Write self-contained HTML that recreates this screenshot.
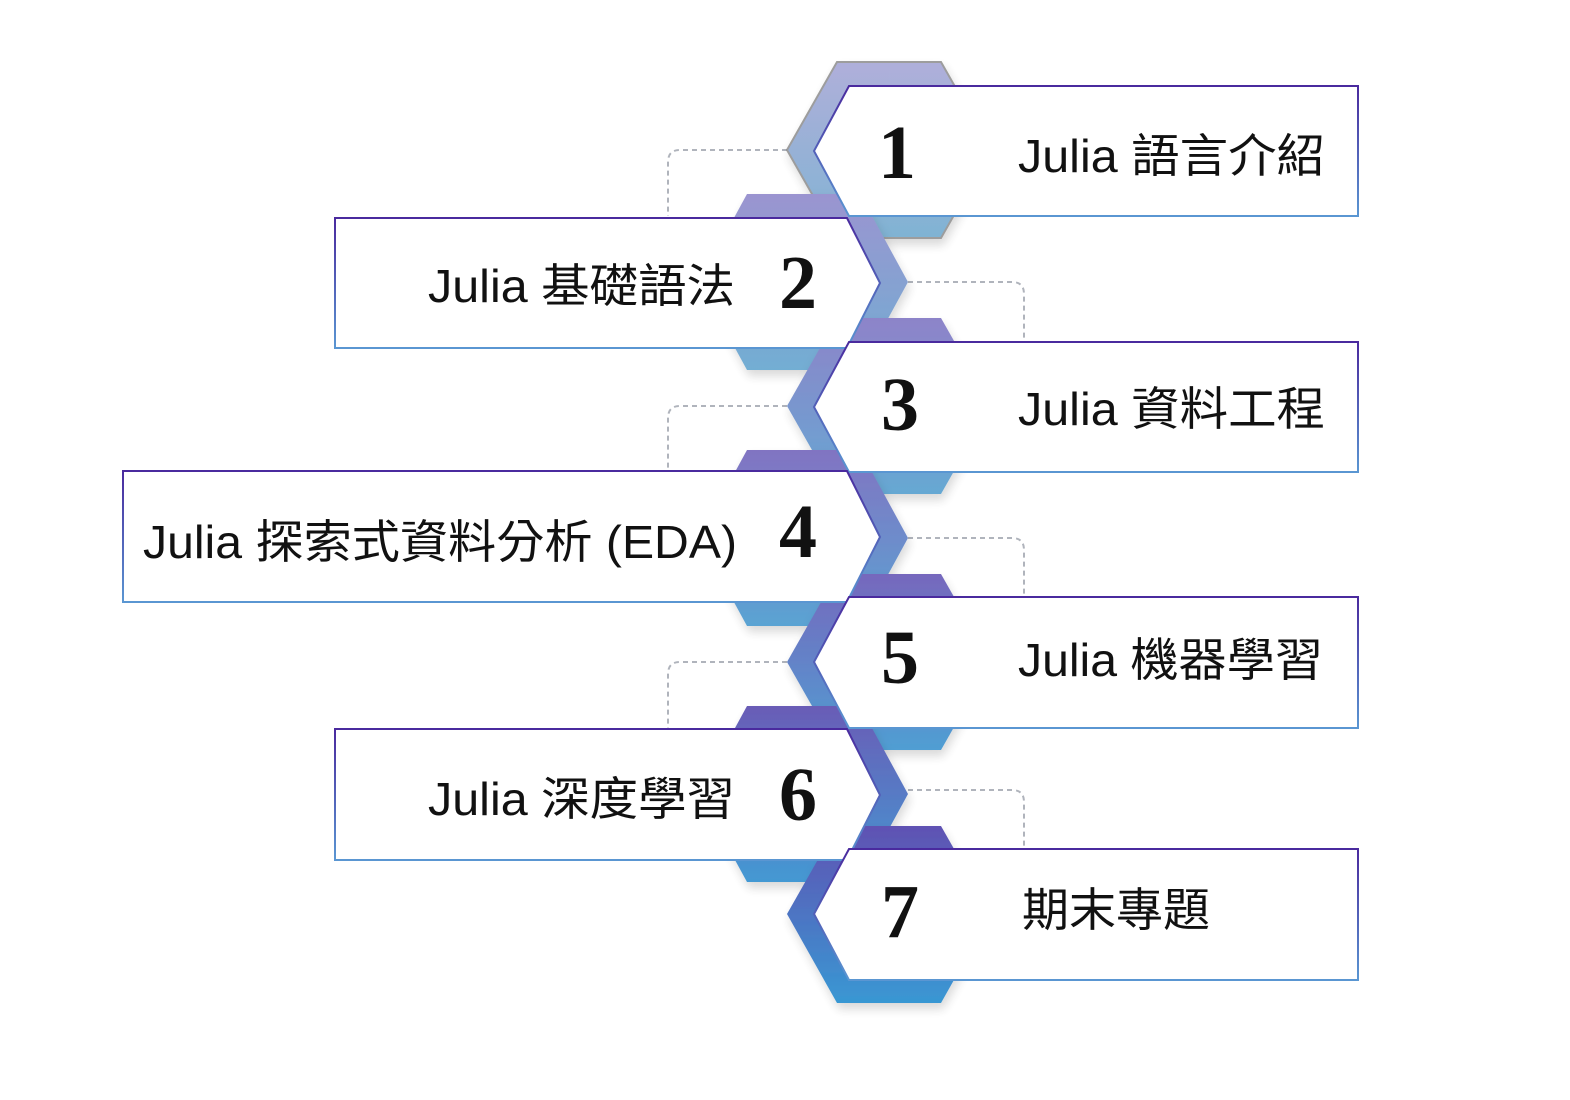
<!DOCTYPE html>
<html><head><meta charset="utf-8"><style>
html,body{margin:0;padding:0;background:#fff;}
svg{display:block;}
.lbl{font-family:"Liberation Sans","Noto Sans CJK TC",sans-serif;font-size:46px;fill:#111;}
.num{font-family:"Liberation Serif",serif;font-weight:bold;font-size:76px;fill:#111;}
</style></head><body>
<svg width="1570" height="1100" viewBox="0 0 1570 1100" xmlns="http://www.w3.org/2000/svg">
<defs>
<linearGradient id="bd" x1="0" y1="0" x2="0" y2="1"><stop offset="0" stop-color="#4a2a9e"/><stop offset="1" stop-color="#5a96d2"/></linearGradient>
<linearGradient id="h1" x1="0" y1="0" x2="0" y2="1"><stop offset="0" stop-color="#a2a2d4"/><stop offset="1" stop-color="#6aa6cc"/></linearGradient>
<linearGradient id="h2" x1="0" y1="0" x2="0" y2="1"><stop offset="0" stop-color="#8a82c8"/><stop offset="1" stop-color="#5aa0cc"/></linearGradient>
<linearGradient id="h3" x1="0" y1="0" x2="0" y2="1"><stop offset="0" stop-color="#7a6ec0"/><stop offset="1" stop-color="#4c9acc"/></linearGradient>
<linearGradient id="h4" x1="0" y1="0" x2="0" y2="1"><stop offset="0" stop-color="#6c5cb8"/><stop offset="1" stop-color="#3e94cc"/></linearGradient>
<linearGradient id="h5" x1="0" y1="0" x2="0" y2="1"><stop offset="0" stop-color="#5e4eb2"/><stop offset="1" stop-color="#328ecc"/></linearGradient>
<linearGradient id="h6" x1="0" y1="0" x2="0" y2="1"><stop offset="0" stop-color="#5040aa"/><stop offset="1" stop-color="#2488cc"/></linearGradient>
<linearGradient id="h7" x1="0" y1="0" x2="0" y2="1"><stop offset="0" stop-color="#4434a6"/><stop offset="1" stop-color="#1886cc"/></linearGradient>
<filter id="sh" x="-20%" y="-20%" width="140%" height="150%"><feDropShadow dx="2" dy="6" stdDeviation="5" flood-color="#000" flood-opacity="0.18"/></filter>
</defs>

<g fill="none" stroke="#b0b4bc" stroke-width="2" stroke-dasharray="5,4">
<path d="M787 150 H680 Q668 150 668 162 V216"/>
<path d="M787 406 H680 Q668 406 668 418 V470"/>
<path d="M787 662 H680 Q668 662 668 674 V728"/>
<path d="M908 282 H1012 Q1024 282 1024 294 V340"/>
<path d="M908 538 H1012 Q1024 538 1024 550 V596"/>
<path d="M908 790 H1012 Q1024 790 1024 802 V848"/>
</g>

<g opacity="0.85">
<polygon points="837,62 941,62 991,150 941,238 837,238 787,150" fill="url(#h1)" stroke="#8c8c8c" stroke-width="2" filter="url(#sh)"/>
<polygon points="747,194 860,194 908,282 860,370 747,370 699,282" fill="url(#h2)" filter="url(#sh)"/>
<polygon points="837,318 941,318 991,406 941,494 837,494 787,406" fill="url(#h3)" filter="url(#sh)"/>
<polygon points="747,450 860,450 908,538 860,626 747,626 699,538" fill="url(#h4)" filter="url(#sh)"/>
<polygon points="837,574 941,574 991,662 941,750 837,750 787,662" fill="url(#h5)" filter="url(#sh)"/>
<polygon points="747,706 860,706 908,794 860,882 747,882 699,794" fill="url(#h6)" filter="url(#sh)"/>
<polygon points="837,826 941,826 991,914 941,1003 837,1003 787,914" fill="url(#h7)" filter="url(#sh)"/>
</g>

<g fill="#fff" stroke="url(#bd)" stroke-width="2">
<polygon points="849,86 1358,86 1358,216 849,216 814,151"/>
<polygon points="335,218 847,218 880,283 847,348 335,348"/>
<polygon points="849,342 1358,342 1358,472 849,472 814,407"/>
<polygon points="123,471 847,471 880,537 847,602 123,602"/>
<polygon points="849,597 1358,597 1358,728 849,728 814,662"/>
<polygon points="335,729 847,729 880,795 847,860 335,860"/>
<polygon points="849,849 1358,849 1358,980 849,980 814,914"/>
</g>

<text class="num" x="897" y="178" text-anchor="middle">1</text>
<text class="num" x="798" y="308" text-anchor="middle">2</text>
<text class="num" x="900" y="430" text-anchor="middle">3</text>
<text class="num" x="798" y="557" text-anchor="middle">4</text>
<text class="num" x="900" y="683" text-anchor="middle">5</text>
<text class="num" x="798" y="820" text-anchor="middle">6</text>
<text class="num" x="900" y="937" text-anchor="middle">7</text>

<text class="lbl" x="1018" y="172" textLength="307" lengthAdjust="spacingAndGlyphs">Julia 語言介紹</text>
<text class="lbl" x="428" y="302" textLength="307" lengthAdjust="spacingAndGlyphs">Julia 基礎語法</text>
<text class="lbl" x="1018" y="425" textLength="307" lengthAdjust="spacingAndGlyphs">Julia 資料工程</text>
<text class="lbl" x="143" y="558" textLength="594" lengthAdjust="spacingAndGlyphs">Julia 探索式資料分析 (EDA)</text>
<text class="lbl" x="1018" y="676" textLength="305" lengthAdjust="spacingAndGlyphs">Julia 機器學習</text>
<text class="lbl" x="428" y="815" textLength="307" lengthAdjust="spacingAndGlyphs">Julia 深度學習</text>
<text class="lbl" x="1022" y="926" textLength="188" lengthAdjust="spacingAndGlyphs">期末專題</text>
</svg>
</body></html>
